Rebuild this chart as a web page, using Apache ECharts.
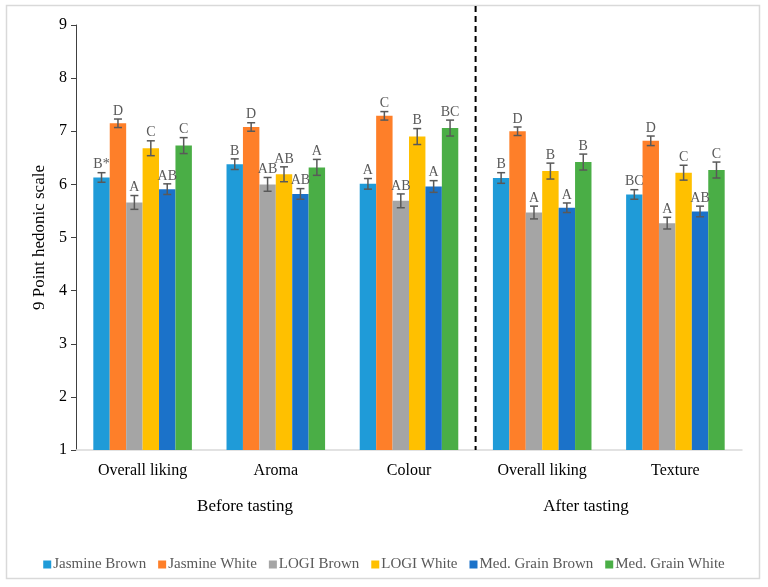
<!DOCTYPE html>
<html>
<head>
<meta charset="utf-8">
<script src="https://cdn.jsdelivr.net/npm/echarts@6/dist/echarts.min.js"></script>
<style>html,body{margin:0;padding:0;background:#fff}#c{width:768px;height:587px}</style>
</head>
<body>
<div id="c"></div>
<script>
var categories = ['Overall liking', 'Aroma', 'Colour', 'Overall liking', 'Texture'];
var seriesNames = ['Jasmine Brown', 'Jasmine White', 'LOGI Brown', 'LOGI White', 'Med. Grain Brown', 'Med. Grain White'];
var colors = ['#1f9bd8', '#fe7f29', '#a5a5a5', '#ffc000', '#1b72c9', '#4aae46'];

var jasmineBrown = [6.13, 6.38, 6.01, 6.12, 5.81];
var jasmineWhite = [7.15, 7.08, 7.29, 7.00, 6.82];
var logiBrown = [5.66, 6.00, 5.69, 5.47, 5.27];
var logiWhite = [6.68, 6.19, 6.90, 6.25, 6.22];
var medBrown = [5.91, 5.82, 5.96, 5.56, 5.49];
var medWhite = [6.73, 6.32, 7.06, 6.42, 6.27];

var errJasmineBrown = [0.09, 0.10, 0.10, 0.10, 0.09];
var errJasmineWhite = [0.08, 0.08, 0.08, 0.08, 0.09];
var errLogiBrown = [0.13, 0.13, 0.13, 0.12, 0.11];
var errLogiWhite = [0.14, 0.14, 0.15, 0.15, 0.14];
var errMedBrown = [0.10, 0.10, 0.11, 0.09, 0.10];
var errMedWhite = [0.15, 0.15, 0.15, 0.15, 0.15];

var sigJasmineBrown = ['B*', 'B', 'A', 'B', 'BC'];
var sigJasmineWhite = ['D', 'D', 'C', 'D', 'D'];
var sigLogiBrown = ['A', 'AB', 'AB', 'A', 'A'];
var sigLogiWhite = ['C', 'AB', 'B', 'B', 'C'];
var sigMedBrown = ['AB', 'AB', 'A', 'A', 'AB'];
var sigMedWhite = ['C', 'A', 'BC', 'B', 'C'];

var groupLabels = ['Before tasting', 'After tasting'];
var yTicks = [1, 2, 3, 4, 5, 6, 7, 8, 9];

var values = [jasmineBrown, jasmineWhite, logiBrown, logiWhite, medBrown, medWhite];
var errors = [errJasmineBrown, errJasmineWhite, errLogiBrown, errLogiWhite, errMedBrown, errMedWhite];
var sigs = [sigJasmineBrown, sigJasmineWhite, sigLogiBrown, sigLogiWhite, sigMedBrown, sigMedWhite];

var SERIF = '"Liberation Serif", "Times New Roman", serif';
var CAT_GAP = 0.26;
var nS = seriesNames.length;

var series = [];
values.forEach(function (vals, i) {
  series.push({
    name: seriesNames[i],
    type: 'bar',
    data: vals,
    barGap: '0%',
    barCategoryGap: (CAT_GAP * 100) + '%',
    itemStyle: { color: colors[i] },
    z: 2
  });
});
values.forEach(function (vals, i) {
  var d = vals.map(function (v, k) { return [k, v, errors[i][k]]; });
  series.push({
    name: 'err' + i,
    type: 'custom',
    data: d,
    z: 5,
    silent: true,
    encode: { x: 0, y: 1 },
    renderItem: function (params, api) {
      var k = api.value(0), v = api.value(1), e = api.value(2);
      var band = api.size([1, 0])[0];
      var groupW = band * (1 - CAT_GAP);
      var barW = groupW / nS;
      var cx = api.coord([k, v])[0] - groupW / 2 + barW * (i + 0.5);
      var yTop = api.coord([k, v + e])[1];
      var yBot = api.coord([k, v - e])[1];
      var cap = 4;
      var st = { stroke: '#595959', lineWidth: 1.5 };
      return {
        type: 'group',
        children: [
          { type: 'line', shape: { x1: cx, y1: yTop, x2: cx, y2: yBot }, style: st },
          { type: 'line', shape: { x1: cx - cap, y1: yTop, x2: cx + cap, y2: yTop }, style: st },
          { type: 'line', shape: { x1: cx - cap, y1: yBot, x2: cx + cap, y2: yBot }, style: st },
          { type: 'text', style: { text: sigs[i][k], x: cx, y: yTop - 1, textAlign: 'center', textVerticalAlign: 'bottom', font: '14px ' + SERIF, fill: '#595959' } }
        ]
      };
    }
  });
});

var chart = echarts.init(document.getElementById('c'), null, { renderer: 'canvas' });
var option = {
  animation: false,
  backgroundColor: '#ffffff',
  grid: { left: 76, right: 26, top: 25, bottom: 137, containLabel: false },
  legend: {
    data: seriesNames,
    bottom: 10,
    left: 'center',
    icon: 'rect',
    itemWidth: 8,
    itemHeight: 8,
    itemGap: 12,
    textStyle: { fontFamily: SERIF, fontSize: 15, color: '#595959', padding: [0, 0, 0, -3] }
  },
  xAxis: {
    type: 'category',
    data: categories,
    axisLine: { lineStyle: { color: '#d9d9d9', width: 1.5 } },
    axisTick: { show: false },
    axisLabel: { fontFamily: SERIF, fontSize: 16, color: '#000', margin: 13, interval: 0 }
  },
  yAxis: {
    type: 'value',
    min: 1,
    max: 9,
    interval: 1,
    name: '9 Point hedonic scale',
    nameLocation: 'middle',
    nameGap: 28,
    nameRotate: 90,
    nameTextStyle: { fontFamily: SERIF, fontSize: 17, color: '#000' },
    axisLine: { show: true, lineStyle: { color: '#404040', width: 1 } },
    axisTick: { show: true, inside: false, length: 5, lineStyle: { color: '#404040' } },
    splitLine: { show: false },
    axisLabel: {
      fontFamily: SERIF, fontSize: 16, color: '#000', margin: 9,
      formatter: function (v) { return yTicks.indexOf(v) >= 0 ? String(v) : ''; }
    }
  },
  series: series
};
chart.setOption(option);

var x2 = chart.convertToPixel({ xAxisIndex: 0 }, 2);
var x3 = chart.convertToPixel({ xAxisIndex: 0 }, 3);
var xDiv = (x2 + x3) / 2;
var yBase = chart.convertToPixel({ yAxisIndex: 0 }, 1);
chart.setOption({
  graphic: [
    { type: 'rect', shape: { x: 6.5, y: 5.5, width: 753, height: 573 }, style: { fill: 'none', stroke: '#d9d9d9', lineWidth: 1.5 }, z: -1 },
    { type: 'line', shape: { x1: xDiv, y1: 6, x2: xDiv, y2: yBase }, style: { stroke: '#000', lineWidth: 2, lineDash: [6, 4] }, z: 10 },
    { type: 'text', style: { text: groupLabels[0], x: 245, y: 507, textAlign: 'center', textVerticalAlign: 'middle', font: '17px ' + SERIF, fill: '#000' } },
    { type: 'text', style: { text: groupLabels[1], x: 586, y: 507, textAlign: 'center', textVerticalAlign: 'middle', font: '17px ' + SERIF, fill: '#000' } }
  ]
});
</script>
</body>
</html>
